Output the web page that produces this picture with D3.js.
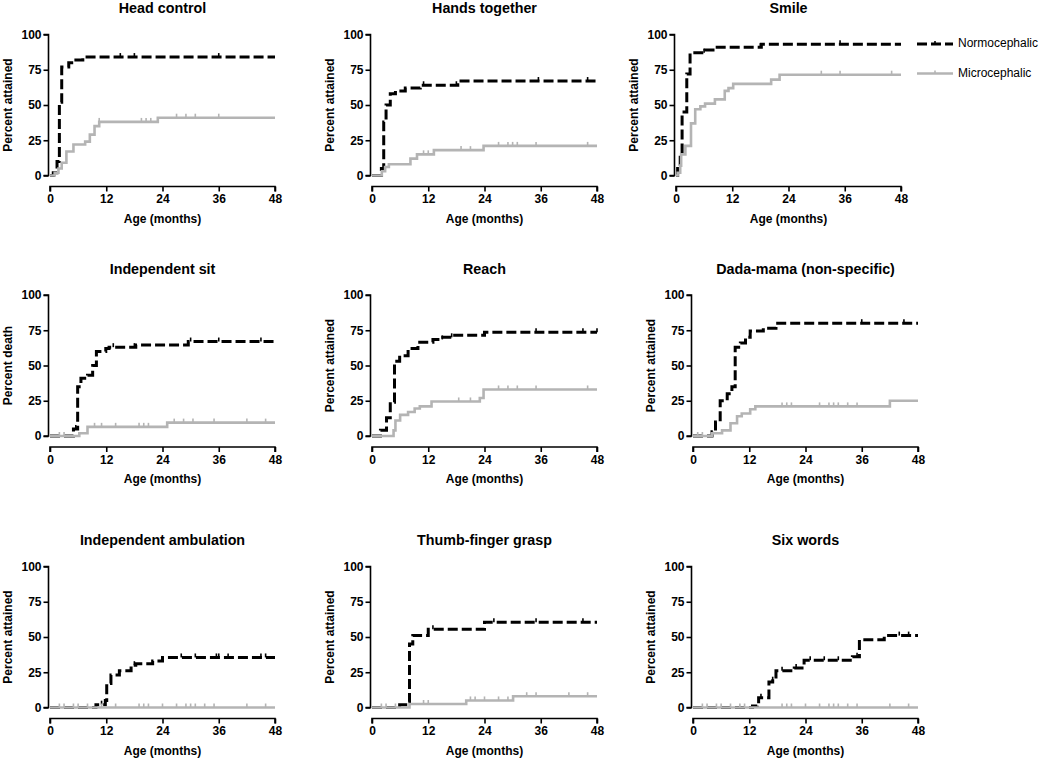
<!DOCTYPE html>
<html>
<head>
<meta charset="utf-8">
<script src="https://cdn.jsdelivr.net/npm/d3@7/dist/d3.min.js"></script>
<style>
  body { margin: 0; background: #fff; }
  text { font-family: Arial, "Liberation Sans", sans-serif; }
</style>
</head>
<body>
<div id="chart"></div>
<script>
// ---- data: [month, percent] = value rises to percent at month ----
const titles = ['Head control', 'Hands together', 'Smile',
  'Independent sit', 'Reach', 'Dada-mama (non-specific)',
  'Independent ambulation', 'Thumb-finger grasp', 'Six words'];
const yLabels = ['Percent attained', 'Percent attained', 'Percent attained',
  'Percent death', 'Percent attained', 'Percent attained',
  'Percent attained', 'Percent attained', 'Percent attained'];
const seriesNames = ['Normocephalic', 'Microcephalic'];
const xTicks = [0, 12, 24, 36, 48];
const yTicks = [0, 25, 50, 75, 100];

const headNormo  = [[0,0],[0.7,2],[1.5,10],[2,52],[2.5,77],[4,80],[5,82],[7,84]];
const headMicro  = [[0,0],[1,2],[1.8,5],[2.5,9],[3.5,17],[5,22],[7.5,24],[8.5,29],[9.5,35],[10.5,38],[23,41]];
const handsNormo = [[0,0],[2,5],[2.5,38],[3,50],[3.9,58],[5,60],[7.1,62],[10.3,64],[18.3,67]];
const handsMicro = [[0,0],[2.1,3],[2.8,6],[3.6,8],[8.2,12],[9.6,15],[13.2,18],[23.8,21]];
const smileNormo = [[0,0],[0.35,5],[0.9,15],[1.3,45],[2.3,72],[3,87],[6.2,89],[8.3,91],[18.2,93]];
const smileMicro = [[0,0],[0.35,2],[0.9,7],[1.1,15],[2,21],[3.2,37],[4.1,47],[5.2,49],[6.2,51],[8.3,54],[10.4,60],[11.2,62],[12.2,65],[20.3,68],[22.1,71.5]];
const sitNormo   = [[0,0],[5,5],[5.9,35],[6.6,41],[8,43],[9.1,50],[9.9,60],[11.9,62],[12.6,63],[18.3,64.5],[29.5,67]];
const sitMicro   = [[0,0],[6.25,2],[8,6.5],[25,9.5]];
const reachNormo = [[0,0],[1.8,4],[3.1,13],[3.9,24],[4.8,53],[5.9,57],[7.7,62],[9.8,66.5],[13,68.5],[15.1,70],[17.3,71.5],[24,73.5]];
const reachMicro = [[0,0],[4.6,4],[5,11],[6,15],[7.7,17],[9.1,19.5],[10.2,21],[12.7,24.5],[23,27],[23.8,33]];
const dadaNormo  = [[0,0],[4.05,3],[4.8,10],[5.8,25],[7.3,30],[8.3,35],[9,63],[10.1,66],[11.2,70],[12.2,74.5],[15,76.5],[17.7,80]];
const dadaMicro  = [[0,0],[4,2],[6.2,4],[8,9],[9.4,14],[10.4,16],[12.2,19],[13.3,21],[42,25]];
const ambNormo   = [[0,0],[9.8,2],[11.8,5],[12.1,17],[13,23],[14.8,26],[17.3,30],[18.3,31],[21.9,33],[24,35.5]];
const ambMicro   = [[0,0]];
const thumbNormo = [[0,0],[5.9,2],[7.2,4],[8,45],[8.7,51],[12,55.5],[24,60.5]];
const thumbMicro = [[0,0],[8,2.5],[20.1,5],[30.1,8]];
const wordsNormo = [[0,0],[12.7,1],[13.7,3],[14,7],[16.2,18],[17,19],[17.7,26],[21.6,28],[23.7,33.5],[34,36],[35.5,48],[40.8,51]];
const wordsMicro = [[0,0]];

// censored observations (months)
const headNormoC  = [15, 18, 36];
const headMicroC  = [10.5, 19.5, 20.5, 21.5, 27, 29, 31, 36];
const handsNormoC = [11, 18, 35.5, 46];
const handsMicroC = [11, 12, 19, 21, 27, 29, 30, 31, 35, 46];
const smileNormoC = [6, 18, 35];
const smileMicroC = [31, 35, 46];
const sitNormoC   = [5.5, 13.5, 18, 30, 36, 45];
const sitMicroC   = [2, 3, 9.5, 11, 14, 19, 20, 21, 26.5, 28.5, 30.5, 35, 42, 46];
const reachNormoC = [15, 17, 35, 45, 48];
const reachMicroC = [18.5, 21, 27, 29, 31, 35, 46];
const dadaNormoC  = [36, 45];
const dadaMicroC  = [1, 2, 19, 20, 21, 27, 29, 30, 31, 33, 35];
const ambNormoC   = [11, 18, 28, 31, 35.5, 36, 38, 45, 46];
const ambMicroC   = [2, 3, 5, 6, 8, 11, 14, 19, 20, 21, 24, 27, 29, 30, 31, 33, 35, 42, 46];
const thumbNormoC = [13, 26, 35, 45];
const thumbMicroC = [2, 3, 5, 11, 12, 21, 22, 24, 27, 29, 33, 35, 42, 46];
const wordsNormoC = [14.5, 17, 19, 22, 25, 28, 31, 35, 44, 46];
const wordsMicroC = [2, 3, 5, 6, 8, 10, 11, 19, 20, 21, 24, 27, 29, 30, 31, 33, 35, 42, 46];

const normoSteps = [headNormo, handsNormo, smileNormo, sitNormo, reachNormo, dadaNormo, ambNormo, thumbNormo, wordsNormo];
const microSteps = [headMicro, handsMicro, smileMicro, sitMicro, reachMicro, dadaMicro, ambMicro, thumbMicro, wordsMicro];
const normoCens  = [headNormoC, handsNormoC, smileNormoC, sitNormoC, reachNormoC, dadaNormoC, ambNormoC, thumbNormoC, wordsNormoC];
const microCens  = [headMicroC, handsMicroC, smileMicroC, sitMicroC, reachMicroC, dadaMicroC, ambMicroC, thumbMicroC, wordsMicroC];

// ---- layout ----
const W = 1050, H = 765;
const colX = [50, 372, 693];
const rowY = [34.5, 295, 566.5];
const pw = 225, ph = 141;
const black = '#000', grey = '#b4b4b4';

const svg = d3.select('#chart').append('svg')
  .attr('width', W).attr('height', H);

const valueAt = (steps, t) => {
  let v = 0;
  steps.forEach(d => { if (d[0] <= t) v = d[1]; });
  return v;
};

titles.forEach((title, i) => {
  const r = Math.floor(i / 3), c = i % 3;
  const left = (r === 0 && c === 2) ? 676 : colX[c];
  const top = rowY[r];

  const x = d3.scaleLinear().domain([0, 48]).range([0, pw]);
  const y = d3.scaleLinear().domain([0, 100]).range([ph, 0]);

  const g = svg.append('g').attr('transform', `translate(${left},${top})`);

  // title
  g.append('text')
    .attr('x', pw / 2).attr('y', -25)
    .attr('text-anchor', 'middle').attr('dominant-baseline', 'middle')
    .style('font-size', '14.3px').style('font-weight', 'bold')
    .text(title);

  // y axis
  const yAxisG = g.append('g').attr('transform', 'translate(-1.5,0)')
    .call(d3.axisLeft(y).tickValues(yTicks).tickSize(5).tickPadding(2));
  // x axis (offset below)
  const xAxisG = g.append('g').attr('transform', `translate(0,${ph + 11})`)
    .call(d3.axisBottom(x).tickValues(xTicks).tickSize(5).tickPadding(3));
  [yAxisG, xAxisG].forEach(a => {
    a.select('.domain').attr('stroke-width', 1.6);
    a.selectAll('.tick line').attr('stroke-width', 1.6);
    a.selectAll('text').style('font-size', '12px').style('font-weight', 'bold')
      .style('font-family', 'Arial, "Liberation Sans", sans-serif').attr('fill', '#000');
  });
  yAxisG.select('.domain').attr('d', `M-5,${ph}H0V0H-5`);
  xAxisG.select('.domain').attr('d', `M0,5V0H${pw}V5`);

  // axis titles
  g.append('text')
    .attr('transform', `translate(-41,${ph / 2}) rotate(-90)`)
    .attr('text-anchor', 'middle').attr('dominant-baseline', 'middle')
    .style('font-size', '12px').style('font-weight', 'bold')
    .text(yLabels[i]);
  g.append('text')
    .attr('x', pw / 2).attr('y', ph + 44)
    .attr('text-anchor', 'middle').attr('dominant-baseline', 'middle')
    .style('font-size', '12px').style('font-weight', 'bold')
    .text('Age (months)');

  const line = d3.line()
    .x(d => x(d[0])).y(d => y(d[1]))
    .curve(d3.curveStepAfter);

  const drawSeries = (steps, cens, color, width, dash) => {
    const pts = steps.concat([[48, steps[steps.length - 1][1]]]);
    g.append('path').datum(pts)
      .attr('d', line)
      .attr('fill', 'none')
      .attr('stroke', color)
      .attr('stroke-width', width)
      .attr('stroke-dasharray', dash);
    g.selectAll(null).data(cens).enter().append('line')
      .attr('x1', d => x(d)).attr('x2', d => x(d))
      .attr('y1', d => y(valueAt(steps, d)))
      .attr('y2', d => y(valueAt(steps, d)) - 4)
      .attr('stroke', color).attr('stroke-width', 1.6);
  };

  // grey sits on top of the black dashes along the baseline
  drawSeries(normoSteps[i], normoCens[i], black, 3, '10,4');
  drawSeries(microSteps[i], microCens[i], grey, 2.6, null);
});

// legend
const legend = svg.append('g');
seriesNames.forEach((name, k) => {
  const ly = k === 0 ? 44 : 73.5;
  legend.append('line')
    .attr('x1', 917).attr('x2', 953).attr('y1', ly).attr('y2', ly)
    .attr('stroke', k === 0 ? black : grey)
    .attr('stroke-width', k === 0 ? 3 : 2.6)
    .attr('stroke-dasharray', k === 0 ? '10,4' : null);
  legend.append('line')
    .attr('x1', 935).attr('x2', 935).attr('y1', ly).attr('y2', ly - 3)
    .attr('stroke', k === 0 ? black : grey).attr('stroke-width', 1.6);
  legend.append('text')
    .attr('x', 958).attr('y', ly)
    .attr('dominant-baseline', 'middle')
    .style('font-size', '12px')
    .text(name);
});
</script>
</body>
</html>
